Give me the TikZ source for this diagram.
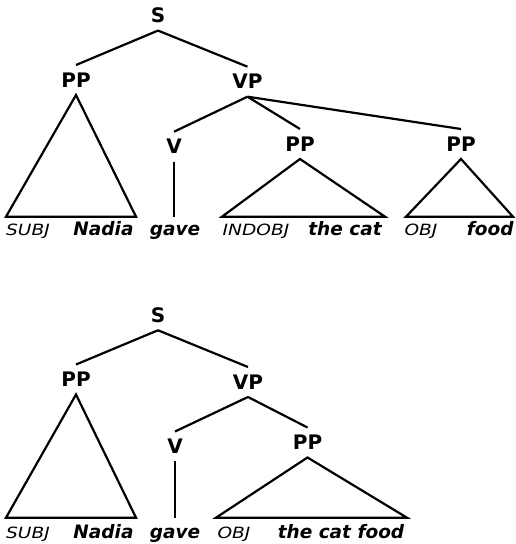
\documentclass[tikz,border=0pt]{standalone}
\usepackage{fontspec}
\setmainfont{DejaVu Sans}
\newfontfamily\tagfont[FakeStretch=1.2]{DejaVu Sans}
\usetikzlibrary{positioning}

\begin{document}
\begin{tikzpicture}[
  x=1pt, y=-1pt,
  cat/.style={font=\fontsize{20}{20}\selectfont\bfseries, inner xsep=1pt, inner ysep=7.5pt},
  word/.style={font=\fontsize{18.5}{18.5}\selectfont\bfseries\itshape, anchor=base, inner sep=0pt},
  role/.style={font=\tagfont\fontsize{15.5}{15.5}\selectfont\itshape, anchor=base, inner sep=0pt},
  branch/.style={line width=2.2pt, line join=miter}
]
\useasboundingbox (0,0) rectangle (515,544);

% Upper tree
\node[cat] (sA) at (158,15.3) {S};
\node[cat] (subjA) at (76,80) {PP};
\node[cat] (vpA) at (247.5,81.7) {VP};
\node[cat] (vA) at (174,146.7) {V};
\node[cat] (indobjA) at (300,144) {PP};
\node[cat] (objA) at (461,144) {PP};

\coordinate (subjA1) at (6,216.7);
\coordinate (subjA2) at (136,216.7);
\coordinate (gaveA) at (174,216.7);
\coordinate (indobjA1) at (222,216.7);
\coordinate (indobjA2) at (385,216.7);
\coordinate (objA1) at (406,216.7);
\coordinate (objA2) at (513,216.7);

\draw[branch] (sA.south) -- (subjA.north);
\draw[branch] (sA.south) -- (vpA.north);
\draw[branch] (vpA.south) -- (vA.north);
\draw[branch] (vpA.south) -- (indobjA.north);
\draw[branch] (vpA.south) -- (objA.north);
\draw[branch] (vA.south) -- (gaveA);
\draw[branch] (subjA.south) -- (subjA1) -- (subjA2) -- cycle;
\draw[branch] (indobjA.south) -- (indobjA1) -- (indobjA2) -- cycle;
\draw[branch] (objA.south) -- (objA1) -- (objA2) -- cycle;

% Words of the upper tree
\node[role] (rsubjA) at (28,235.5) {SUBJ};
\node[word] (nadiaA) at (103.5,235.5) {Nadia};
\node[word] (wgaveA) at (175,235.5) {gave};
\node[role] (rindobjA) at (256,235.5) {INDOBJ};
\node[word] (catA) at (345,235.5) {the cat};
\node[role] (robjA) at (421,235.5) {OBJ};
\node[word, anchor=base west] (foodA) at (466.7,235.5) {food};

% Lower tree
\node[cat] (sB) at (158,315) {S};
\node[cat] (subjB) at (76,379.5) {PP};
\node[cat] (vpB) at (248,382) {VP};
\node[cat] (vB) at (175,446.5) {V};
\node[cat] (objB) at (307.5,442.5) {PP};

\coordinate (subjB1) at (6,517.7);
\coordinate (subjB2) at (136,517.7);
\coordinate (gaveB) at (175,517.7);
\coordinate (objB1) at (216,517.7);
\coordinate (objB2) at (407,517.7);

\draw[branch] (sB.south) -- (subjB.north);
\draw[branch] (sB.south) -- (vpB.north);
\draw[branch] (vpB.south) -- (vB.north);
\draw[branch] (vpB.south) -- (objB.north);
\draw[branch] (vB.south) -- (gaveB);
\draw[branch] (subjB.south) -- (subjB1) -- (subjB2) -- cycle;
\draw[branch] (objB.south) -- (objB1) -- (objB2) -- cycle;

% Words of the lower tree
\node[role] (rsubjB) at (28,538) {SUBJ};
\node[word] (nadiaB) at (103.5,538) {Nadia};
\node[word] (wgaveB) at (175,538) {gave};
\node[role] (robjB) at (234,538) {OBJ};
\node[word] (catB) at (341,538) {the cat food};

\end{tikzpicture}
\end{document}
